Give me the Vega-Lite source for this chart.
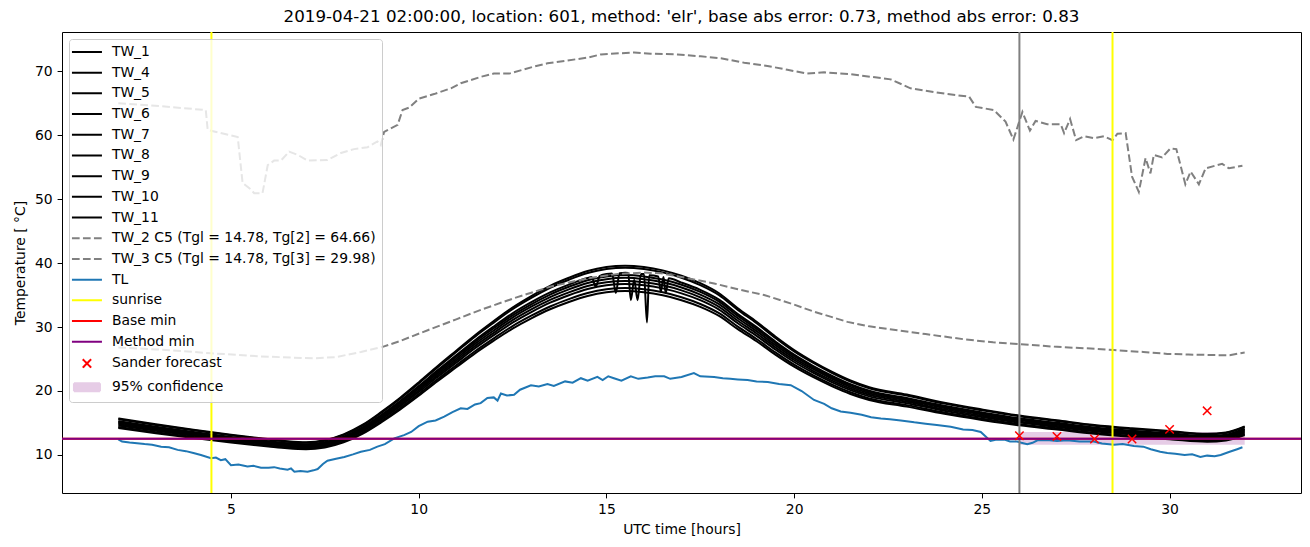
{
"$schema": "https://vega.github.io/schema/vega-lite/v6.json",
"autosize": {"type": "none"},
"width": 1239, "height": 461,
"padding": {"left": 62, "top": 32, "right": 9, "bottom": 54},
"background": "white",
"title": {"text": "2019-04-21 02:00:00, location: 601, method: 'elr', base abs error: 0.73, method abs error: 0.83", "font": "DejaVu Sans", "fontSize": 16.7, "fontWeight": "normal", "color": "#000000", "anchor": "middle", "frame": "group", "offset": 5},
"config": {
  "view": {"stroke": "#000000", "strokeWidth": 1},
  "axis": {"grid": false, "domain": false, "ticks": true, "tickColor": "#000000", "tickSize": 4.9, "tickWidth": 1, "labelFont": "DejaVu Sans", "labelFontSize": 13.9, "labelColor": "#000000", "labelPadding": 4.9, "titleFont": "DejaVu Sans", "titleFontSize": 13.9, "titleFontWeight": "normal", "titleColor": "#000000"},
  "axisX": {"titlePadding": 6},
  "axisY": {"titlePadding": 7}
},
"datasets": {
"tw": [
{"s":"TW_1","h":2,"T":15.70},{"s":"TW_1","h":3,"T":14.80},{"s":"TW_1","h":4,"T":13.95},{"s":"TW_1","h":5,"T":13.16},{"s":"TW_1","h":6,"T":12.48},{"s":"TW_1","h":6.5,"T":12.16},{"s":"TW_1","h":7,"T":12.00},{"s":"TW_1","h":7.5,"T":12.32},{"s":"TW_1","h":8,"T":13.22},{"s":"TW_1","h":8.5,"T":14.69},{"s":"TW_1","h":9,"T":16.70},{"s":"TW_1","h":9.5,"T":18.91},{"s":"TW_1","h":10,"T":21.34},{"s":"TW_1","h":10.5,"T":23.87},{"s":"TW_1","h":11,"T":26.30},{"s":"TW_1","h":11.5,"T":28.72},{"s":"TW_1","h":12,"T":30.94},{"s":"TW_1","h":12.5,"T":33.05},{"s":"TW_1","h":13,"T":34.84},{"s":"TW_1","h":13.5,"T":36.43},{"s":"TW_1","h":14,"T":37.69},{"s":"TW_1","h":14.5,"T":38.75},{"s":"TW_1","h":15,"T":39.38},{"s":"TW_1","h":15.5,"T":39.59},{"s":"TW_1","h":16,"T":39.38},{"s":"TW_1","h":16.5,"T":38.85},{"s":"TW_1","h":17,"T":38.01},{"s":"TW_1","h":17.5,"T":36.85},{"s":"TW_1","h":18,"T":35.27},{"s":"TW_1","h":18.5,"T":32.94},{"s":"TW_1","h":19,"T":30.83},{"s":"TW_1","h":19.5,"T":28.51},{"s":"TW_1","h":20,"T":26.40},{"s":"TW_1","h":20.5,"T":24.61},{"s":"TW_1","h":21,"T":23.03},{"s":"TW_1","h":21.5,"T":21.66},{"s":"TW_1","h":22,"T":20.60},{"s":"TW_1","h":23,"T":19.44},{"s":"TW_1","h":24,"T":18.17},{"s":"TW_1","h":25,"T":17.12},{"s":"TW_1","h":26,"T":16.17},{"s":"TW_1","h":27,"T":15.43},{"s":"TW_1","h":28,"T":14.69},{"s":"TW_1","h":29,"T":14.17},{"s":"TW_1","h":30,"T":13.74},{"s":"TW_1","h":31,"T":13.32},{"s":"TW_1","h":31.5,"T":13.53},{"s":"TW_1","h":32,"T":14.48},
{"s":"TW_4","h":2,"T":15.58},{"s":"TW_4","h":3,"T":14.69},{"s":"TW_4","h":4,"T":13.85},{"s":"TW_4","h":5,"T":13.07},{"s":"TW_4","h":6,"T":12.39},{"s":"TW_4","h":6.5,"T":12.07},{"s":"TW_4","h":7,"T":11.91},{"s":"TW_4","h":7.5,"T":12.23},{"s":"TW_4","h":8,"T":13.12},{"s":"TW_4","h":8.5,"T":14.58},{"s":"TW_4","h":9,"T":16.57},{"s":"TW_4","h":9.5,"T":18.77},{"s":"TW_4","h":10,"T":21.17},{"s":"TW_4","h":10.5,"T":23.68},{"s":"TW_4","h":11,"T":26.09},{"s":"TW_4","h":11.5,"T":28.50},{"s":"TW_4","h":12,"T":30.69},{"s":"TW_4","h":12.5,"T":32.79},{"s":"TW_4","h":13,"T":34.56},{"s":"TW_4","h":13.5,"T":36.13},{"s":"TW_4","h":14,"T":37.39},{"s":"TW_4","h":14.5,"T":38.44},{"s":"TW_4","h":15,"T":39.06},{"s":"TW_4","h":15.5,"T":39.27},{"s":"TW_4","h":16,"T":39.06},{"s":"TW_4","h":16.5,"T":38.54},{"s":"TW_4","h":17,"T":37.70},{"s":"TW_4","h":17.5,"T":36.55},{"s":"TW_4","h":18,"T":34.98},{"s":"TW_4","h":18.5,"T":32.68},{"s":"TW_4","h":19,"T":30.59},{"s":"TW_4","h":19.5,"T":28.29},{"s":"TW_4","h":20,"T":26.19},{"s":"TW_4","h":20.5,"T":24.42},{"s":"TW_4","h":21,"T":22.85},{"s":"TW_4","h":21.5,"T":21.49},{"s":"TW_4","h":22,"T":20.44},{"s":"TW_4","h":23,"T":19.29},{"s":"TW_4","h":24,"T":18.03},{"s":"TW_4","h":25,"T":16.99},{"s":"TW_4","h":26,"T":16.05},{"s":"TW_4","h":27,"T":15.31},{"s":"TW_4","h":28,"T":14.58},{"s":"TW_4","h":29,"T":14.06},{"s":"TW_4","h":30,"T":13.64},{"s":"TW_4","h":31,"T":13.22},{"s":"TW_4","h":31.5,"T":13.43},{"s":"TW_4","h":32,"T":14.37},
{"s":"TW_5","h":2,"T":15.28},{"s":"TW_5","h":3,"T":14.41},{"s":"TW_5","h":4,"T":13.59},{"s":"TW_5","h":5,"T":12.82},{"s":"TW_5","h":6,"T":12.15},{"s":"TW_5","h":6.5,"T":11.85},{"s":"TW_5","h":7,"T":11.69},{"s":"TW_5","h":7.5,"T":12.00},{"s":"TW_5","h":8,"T":12.87},{"s":"TW_5","h":8.5,"T":14.30},{"s":"TW_5","h":9,"T":16.25},{"s":"TW_5","h":9.5,"T":18.40},{"s":"TW_5","h":10,"T":20.76},{"s":"TW_5","h":10.5,"T":23.22},{"s":"TW_5","h":11,"T":25.57},{"s":"TW_5","h":11.5,"T":27.93},{"s":"TW_5","h":12,"T":30.08},{"s":"TW_5","h":12.5,"T":32.13},{"s":"TW_5","h":13,"T":33.87},{"s":"TW_5","h":13.5,"T":35.40},{"s":"TW_5","h":14,"T":36.63},{"s":"TW_5","h":14.5,"T":37.66},{"s":"TW_5","h":14.6,"T":37.80},{"s":"TW_5","h":14.72,"T":36.3},{"s":"TW_5","h":14.82,"T":37.95},{"s":"TW_5","h":15,"T":38.27},{"s":"TW_5","h":15.15,"T":38.38},{"s":"TW_5","h":15.25,"T":35.3},{"s":"TW_5","h":15.35,"T":38.42},{"s":"TW_5","h":15.5,"T":38.48},{"s":"TW_5","h":15.58,"T":38.45},{"s":"TW_5","h":15.65,"T":34.2},{"s":"TW_5","h":15.74,"T":37.4},{"s":"TW_5","h":15.83,"T":34.2},{"s":"TW_5","h":15.92,"T":38.3},{"s":"TW_5","h":16,"T":38.27},{"s":"TW_5","h":16.08,"T":30.7},{"s":"TW_5","h":16.14,"T":38.1},{"s":"TW_5","h":16.38,"T":37.9},{"s":"TW_5","h":16.45,"T":35.5},{"s":"TW_5","h":16.52,"T":37.8},{"s":"TW_5","h":16.58,"T":35.3},{"s":"TW_5","h":16.66,"T":37.6},{"s":"TW_5","h":17,"T":36.94},{"s":"TW_5","h":17.5,"T":35.81},{"s":"TW_5","h":18,"T":34.28},{"s":"TW_5","h":18.5,"T":32.02},{"s":"TW_5","h":19,"T":29.98},{"s":"TW_5","h":19.5,"T":27.72},{"s":"TW_5","h":20,"T":25.67},{"s":"TW_5","h":20.5,"T":23.93},{"s":"TW_5","h":21,"T":22.40},{"s":"TW_5","h":21.5,"T":21.06},{"s":"TW_5","h":22,"T":20.04},{"s":"TW_5","h":23,"T":18.91},{"s":"TW_5","h":24,"T":17.68},{"s":"TW_5","h":25,"T":16.66},{"s":"TW_5","h":26,"T":15.74},{"s":"TW_5","h":27,"T":15.02},{"s":"TW_5","h":28,"T":14.30},{"s":"TW_5","h":29,"T":13.79},{"s":"TW_5","h":30,"T":13.38},{"s":"TW_5","h":31,"T":12.97},{"s":"TW_5","h":31.5,"T":13.18},{"s":"TW_5","h":32,"T":14.10},
{"s":"TW_6","h":2,"T":15.14},{"s":"TW_6","h":3,"T":14.28},{"s":"TW_6","h":4,"T":13.47},{"s":"TW_6","h":5,"T":12.71},{"s":"TW_6","h":6,"T":12.05},{"s":"TW_6","h":6.5,"T":11.75},{"s":"TW_6","h":7,"T":11.59},{"s":"TW_6","h":7.5,"T":11.90},{"s":"TW_6","h":8,"T":12.76},{"s":"TW_6","h":8.5,"T":14.18},{"s":"TW_6","h":9,"T":16.11},{"s":"TW_6","h":9.5,"T":18.24},{"s":"TW_6","h":10,"T":20.57},{"s":"TW_6","h":10.5,"T":23.00},{"s":"TW_6","h":11,"T":25.34},{"s":"TW_6","h":11.5,"T":27.67},{"s":"TW_6","h":12,"T":29.80},{"s":"TW_6","h":12.5,"T":31.83},{"s":"TW_6","h":13,"T":33.55},{"s":"TW_6","h":13.5,"T":35.07},{"s":"TW_6","h":14,"T":36.29},{"s":"TW_6","h":14.5,"T":37.31},{"s":"TW_6","h":15,"T":37.91},{"s":"TW_6","h":15.5,"T":38.12},{"s":"TW_6","h":16,"T":37.91},{"s":"TW_6","h":16.5,"T":37.41},{"s":"TW_6","h":17,"T":36.60},{"s":"TW_6","h":17.5,"T":35.48},{"s":"TW_6","h":18,"T":33.96},{"s":"TW_6","h":18.5,"T":31.73},{"s":"TW_6","h":19,"T":29.70},{"s":"TW_6","h":19.5,"T":27.47},{"s":"TW_6","h":20,"T":25.44},{"s":"TW_6","h":20.5,"T":23.71},{"s":"TW_6","h":21,"T":22.19},{"s":"TW_6","h":21.5,"T":20.87},{"s":"TW_6","h":22,"T":19.86},{"s":"TW_6","h":23,"T":18.74},{"s":"TW_6","h":24,"T":17.53},{"s":"TW_6","h":25,"T":16.51},{"s":"TW_6","h":26,"T":15.60},{"s":"TW_6","h":27,"T":14.89},{"s":"TW_6","h":28,"T":14.18},{"s":"TW_6","h":29,"T":13.67},{"s":"TW_6","h":30,"T":13.27},{"s":"TW_6","h":31,"T":12.86},{"s":"TW_6","h":31.5,"T":13.06},{"s":"TW_6","h":32,"T":13.98},
{"s":"TW_7","h":2,"T":14.98},{"s":"TW_7","h":3,"T":14.13},{"s":"TW_7","h":4,"T":13.33},{"s":"TW_7","h":5,"T":12.57},{"s":"TW_7","h":6,"T":11.92},{"s":"TW_7","h":6.5,"T":11.62},{"s":"TW_7","h":7,"T":11.47},{"s":"TW_7","h":7.5,"T":11.77},{"s":"TW_7","h":8,"T":12.62},{"s":"TW_7","h":8.5,"T":14.03},{"s":"TW_7","h":9,"T":15.93},{"s":"TW_7","h":9.5,"T":18.04},{"s":"TW_7","h":10,"T":20.34},{"s":"TW_7","h":10.5,"T":22.75},{"s":"TW_7","h":11,"T":25.05},{"s":"TW_7","h":11.5,"T":27.36},{"s":"TW_7","h":12,"T":29.46},{"s":"TW_7","h":12.5,"T":31.47},{"s":"TW_7","h":13,"T":33.17},{"s":"TW_7","h":13.5,"T":34.67},{"s":"TW_7","h":14,"T":35.88},{"s":"TW_7","h":14.5,"T":36.88},{"s":"TW_7","h":15,"T":37.48},{"s":"TW_7","h":15.5,"T":37.68},{"s":"TW_7","h":16,"T":37.48},{"s":"TW_7","h":16.5,"T":36.98},{"s":"TW_7","h":17,"T":36.18},{"s":"TW_7","h":17.5,"T":35.07},{"s":"TW_7","h":18,"T":33.57},{"s":"TW_7","h":18.5,"T":31.37},{"s":"TW_7","h":19,"T":29.36},{"s":"TW_7","h":19.5,"T":27.16},{"s":"TW_7","h":20,"T":25.15},{"s":"TW_7","h":20.5,"T":23.45},{"s":"TW_7","h":21,"T":21.95},{"s":"TW_7","h":21.5,"T":20.64},{"s":"TW_7","h":22,"T":19.64},{"s":"TW_7","h":23,"T":18.54},{"s":"TW_7","h":24,"T":17.33},{"s":"TW_7","h":25,"T":16.33},{"s":"TW_7","h":26,"T":15.43},{"s":"TW_7","h":27,"T":14.73},{"s":"TW_7","h":28,"T":14.03},{"s":"TW_7","h":29,"T":13.53},{"s":"TW_7","h":30,"T":13.13},{"s":"TW_7","h":31,"T":12.72},{"s":"TW_7","h":31.5,"T":12.93},{"s":"TW_7","h":32,"T":13.83},
{"s":"TW_8","h":2,"T":14.80},{"s":"TW_8","h":3,"T":13.96},{"s":"TW_8","h":4,"T":13.17},{"s":"TW_8","h":5,"T":12.43},{"s":"TW_8","h":6,"T":11.78},{"s":"TW_8","h":6.5,"T":11.49},{"s":"TW_8","h":7,"T":11.34},{"s":"TW_8","h":7.5,"T":11.64},{"s":"TW_8","h":8,"T":12.48},{"s":"TW_8","h":8.5,"T":13.86},{"s":"TW_8","h":9,"T":15.74},{"s":"TW_8","h":9.5,"T":17.82},{"s":"TW_8","h":10,"T":20.09},{"s":"TW_8","h":10.5,"T":22.47},{"s":"TW_8","h":11,"T":24.74},{"s":"TW_8","h":11.5,"T":27.02},{"s":"TW_8","h":12,"T":29.09},{"s":"TW_8","h":12.5,"T":31.07},{"s":"TW_8","h":13,"T":32.75},{"s":"TW_8","h":13.5,"T":34.23},{"s":"TW_8","h":14,"T":35.42},{"s":"TW_8","h":14.5,"T":36.41},{"s":"TW_8","h":15,"T":37.00},{"s":"TW_8","h":15.5,"T":37.20},{"s":"TW_8","h":16,"T":37.00},{"s":"TW_8","h":16.5,"T":36.51},{"s":"TW_8","h":17,"T":35.72},{"s":"TW_8","h":17.5,"T":34.63},{"s":"TW_8","h":18,"T":33.15},{"s":"TW_8","h":18.5,"T":30.97},{"s":"TW_8","h":19,"T":28.99},{"s":"TW_8","h":19.5,"T":26.82},{"s":"TW_8","h":20,"T":24.84},{"s":"TW_8","h":20.5,"T":23.16},{"s":"TW_8","h":21,"T":21.67},{"s":"TW_8","h":21.5,"T":20.39},{"s":"TW_8","h":22,"T":19.40},{"s":"TW_8","h":23,"T":18.31},{"s":"TW_8","h":24,"T":17.13},{"s":"TW_8","h":25,"T":16.14},{"s":"TW_8","h":26,"T":15.25},{"s":"TW_8","h":27,"T":14.55},{"s":"TW_8","h":28,"T":13.86},{"s":"TW_8","h":29,"T":13.37},{"s":"TW_8","h":30,"T":12.97},{"s":"TW_8","h":31,"T":12.58},{"s":"TW_8","h":31.5,"T":12.77},{"s":"TW_8","h":32,"T":13.66},
{"s":"TW_9","h":2,"T":14.62},{"s":"TW_9","h":3,"T":13.79},{"s":"TW_9","h":4,"T":13.01},{"s":"TW_9","h":5,"T":12.28},{"s":"TW_9","h":6,"T":11.65},{"s":"TW_9","h":6.5,"T":11.35},{"s":"TW_9","h":7,"T":11.21},{"s":"TW_9","h":7.5,"T":11.50},{"s":"TW_9","h":8,"T":12.33},{"s":"TW_9","h":8.5,"T":13.70},{"s":"TW_9","h":9,"T":15.55},{"s":"TW_9","h":9.5,"T":17.60},{"s":"TW_9","h":10,"T":19.84},{"s":"TW_9","h":10.5,"T":22.18},{"s":"TW_9","h":11,"T":24.43},{"s":"TW_9","h":11.5,"T":26.67},{"s":"TW_9","h":12,"T":28.72},{"s":"TW_9","h":12.5,"T":30.67},{"s":"TW_9","h":13,"T":32.33},{"s":"TW_9","h":13.5,"T":33.80},{"s":"TW_9","h":14,"T":34.97},{"s":"TW_9","h":14.5,"T":35.94},{"s":"TW_9","h":15,"T":36.53},{"s":"TW_9","h":15.5,"T":36.72},{"s":"TW_9","h":16,"T":36.53},{"s":"TW_9","h":16.5,"T":36.04},{"s":"TW_9","h":17,"T":35.26},{"s":"TW_9","h":17.5,"T":34.19},{"s":"TW_9","h":18,"T":32.72},{"s":"TW_9","h":18.5,"T":30.58},{"s":"TW_9","h":19,"T":28.62},{"s":"TW_9","h":19.5,"T":26.48},{"s":"TW_9","h":20,"T":24.53},{"s":"TW_9","h":20.5,"T":22.87},{"s":"TW_9","h":21,"T":21.40},{"s":"TW_9","h":21.5,"T":20.14},{"s":"TW_9","h":22,"T":19.16},{"s":"TW_9","h":23,"T":18.09},{"s":"TW_9","h":24,"T":16.92},{"s":"TW_9","h":25,"T":15.94},{"s":"TW_9","h":26,"T":15.06},{"s":"TW_9","h":27,"T":14.38},{"s":"TW_9","h":28,"T":13.70},{"s":"TW_9","h":29,"T":13.21},{"s":"TW_9","h":30,"T":12.82},{"s":"TW_9","h":31,"T":12.43},{"s":"TW_9","h":31.5,"T":12.62},{"s":"TW_9","h":32,"T":13.50},
{"s":"TW_10","h":2,"T":14.38},{"s":"TW_10","h":3,"T":13.57},{"s":"TW_10","h":4,"T":12.80},{"s":"TW_10","h":5,"T":12.08},{"s":"TW_10","h":6,"T":11.46},{"s":"TW_10","h":6.5,"T":11.17},{"s":"TW_10","h":7,"T":11.03},{"s":"TW_10","h":7.5,"T":11.32},{"s":"TW_10","h":8,"T":12.13},{"s":"TW_10","h":8.5,"T":13.47},{"s":"TW_10","h":9,"T":15.29},{"s":"TW_10","h":9.5,"T":17.31},{"s":"TW_10","h":10,"T":19.51},{"s":"TW_10","h":10.5,"T":21.81},{"s":"TW_10","h":11,"T":24.01},{"s":"TW_10","h":11.5,"T":26.22},{"s":"TW_10","h":12,"T":28.23},{"s":"TW_10","h":12.5,"T":30.15},{"s":"TW_10","h":13,"T":31.77},{"s":"TW_10","h":13.5,"T":33.21},{"s":"TW_10","h":14,"T":34.36},{"s":"TW_10","h":14.5,"T":35.32},{"s":"TW_10","h":15,"T":35.90},{"s":"TW_10","h":15.5,"T":36.09},{"s":"TW_10","h":16,"T":35.90},{"s":"TW_10","h":16.5,"T":35.42},{"s":"TW_10","h":17,"T":34.65},{"s":"TW_10","h":17.5,"T":33.60},{"s":"TW_10","h":18,"T":32.16},{"s":"TW_10","h":18.5,"T":30.05},{"s":"TW_10","h":19,"T":28.13},{"s":"TW_10","h":19.5,"T":26.03},{"s":"TW_10","h":20,"T":24.11},{"s":"TW_10","h":20.5,"T":22.48},{"s":"TW_10","h":21,"T":21.04},{"s":"TW_10","h":21.5,"T":19.80},{"s":"TW_10","h":22,"T":18.84},{"s":"TW_10","h":23,"T":17.79},{"s":"TW_10","h":24,"T":16.64},{"s":"TW_10","h":25,"T":15.68},{"s":"TW_10","h":26,"T":14.81},{"s":"TW_10","h":27,"T":14.14},{"s":"TW_10","h":28,"T":13.47},{"s":"TW_10","h":29,"T":12.99},{"s":"TW_10","h":30,"T":12.61},{"s":"TW_10","h":31,"T":12.23},{"s":"TW_10","h":31.5,"T":12.42},{"s":"TW_10","h":32,"T":13.28},
{"s":"TW_11","h":2,"T":14.21},{"s":"TW_11","h":3,"T":13.40},{"s":"TW_11","h":4,"T":12.65},{"s":"TW_11","h":5,"T":11.94},{"s":"TW_11","h":6,"T":11.32},{"s":"TW_11","h":6.5,"T":11.04},{"s":"TW_11","h":7,"T":10.90},{"s":"TW_11","h":7.5,"T":11.18},{"s":"TW_11","h":8,"T":11.98},{"s":"TW_11","h":8.5,"T":13.31},{"s":"TW_11","h":9,"T":15.10},{"s":"TW_11","h":9.5,"T":17.09},{"s":"TW_11","h":10,"T":19.26},{"s":"TW_11","h":10.5,"T":21.53},{"s":"TW_11","h":11,"T":23.70},{"s":"TW_11","h":11.5,"T":25.88},{"s":"TW_11","h":12,"T":27.86},{"s":"TW_11","h":12.5,"T":29.75},{"s":"TW_11","h":13,"T":31.36},{"s":"TW_11","h":13.5,"T":32.77},{"s":"TW_11","h":14,"T":33.91},{"s":"TW_11","h":14.5,"T":34.85},{"s":"TW_11","h":15,"T":35.42},{"s":"TW_11","h":15.5,"T":35.61},{"s":"TW_11","h":16,"T":35.42},{"s":"TW_11","h":16.5,"T":34.95},{"s":"TW_11","h":17,"T":34.19},{"s":"TW_11","h":17.5,"T":33.15},{"s":"TW_11","h":18,"T":31.73},{"s":"TW_11","h":18.5,"T":29.66},{"s":"TW_11","h":19,"T":27.77},{"s":"TW_11","h":19.5,"T":25.69},{"s":"TW_11","h":20,"T":23.80},{"s":"TW_11","h":20.5,"T":22.19},{"s":"TW_11","h":21,"T":20.77},{"s":"TW_11","h":21.5,"T":19.54},{"s":"TW_11","h":22,"T":18.60},{"s":"TW_11","h":23,"T":17.56},{"s":"TW_11","h":24,"T":16.43},{"s":"TW_11","h":25,"T":15.48},{"s":"TW_11","h":26,"T":14.63},{"s":"TW_11","h":27,"T":13.97},{"s":"TW_11","h":28,"T":13.31},{"s":"TW_11","h":29,"T":12.83},{"s":"TW_11","h":30,"T":12.46},{"s":"TW_11","h":31,"T":12.08},{"s":"TW_11","h":31.5,"T":12.27},{"s":"TW_11","h":32,"T":13.12}
],
"dash": [
{"s":"TW_2","h":2.0,"T":64.95},{"s":"TW_2","h":3.14,"T":64.5},{"s":"TW_2","h":4.33,"T":63.9},{"s":"TW_2","h":4.38,"T":60.8},{"s":"TW_2","h":5.18,"T":59.7},{"s":"TW_2","h":5.31,"T":52.5},{"s":"TW_2","h":5.49,"T":51.7},{"s":"TW_2","h":5.62,"T":50.9},{"s":"TW_2","h":5.84,"T":50.9},{"s":"TW_2","h":5.98,"T":55.3},{"s":"TW_2","h":6.15,"T":56.0},{"s":"TW_2","h":6.33,"T":56.0},{"s":"TW_2","h":6.55,"T":57.4},{"s":"TW_2","h":6.78,"T":56.9},{"s":"TW_2","h":7.04,"T":56.0},{"s":"TW_2","h":7.57,"T":56.1},{"s":"TW_2","h":7.93,"T":57.2},{"s":"TW_2","h":8.28,"T":57.8},{"s":"TW_2","h":8.64,"T":58.1},{"s":"TW_2","h":8.9,"T":59.0},{"s":"TW_2","h":8.99,"T":58.4},{"s":"TW_2","h":9.08,"T":60.5},{"s":"TW_2","h":9.44,"T":61.6},{"s":"TW_2","h":9.57,"T":63.9},{"s":"TW_2","h":9.75,"T":64.3},{"s":"TW_2","h":10.01,"T":65.7},{"s":"TW_2","h":10.41,"T":66.4},{"s":"TW_2","h":10.86,"T":67.3},{"s":"TW_2","h":11.12,"T":68.1},{"s":"TW_2","h":11.66,"T":69.1},{"s":"TW_2","h":12.0,"T":69.6},{"s":"TW_2","h":12.41,"T":69.6},{"s":"TW_2","h":13.07,"T":70.7},{"s":"TW_2","h":13.43,"T":71.2},{"s":"TW_2","h":14.5,"T":72.1},{"s":"TW_2","h":14.85,"T":72.6},{"s":"TW_2","h":15.74,"T":72.9},{"s":"TW_2","h":16.18,"T":72.7},{"s":"TW_2","h":16.89,"T":72.6},{"s":"TW_2","h":17.51,"T":72.3},{"s":"TW_2","h":18.05,"T":72.0},{"s":"TW_2","h":18.67,"T":71.3},{"s":"TW_2","h":19.29,"T":70.8},{"s":"TW_2","h":19.82,"T":70.2},{"s":"TW_2","h":20.35,"T":69.6},{"s":"TW_2","h":20.8,"T":69.8},{"s":"TW_2","h":21.51,"T":69.5},{"s":"TW_2","h":22.57,"T":68.7},{"s":"TW_2","h":23.1,"T":67.3},{"s":"TW_2","h":24.08,"T":66.4},{"s":"TW_2","h":24.66,"T":66.0},{"s":"TW_2","h":24.84,"T":64.4},{"s":"TW_2","h":25.32,"T":63.9},{"s":"TW_2","h":25.63,"T":62.1},{"s":"TW_2","h":25.84,"T":59.3},{"s":"TW_2","h":26.08,"T":63.6},{"s":"TW_2","h":26.28,"T":60.7},{"s":"TW_2","h":26.43,"T":62.2},{"s":"TW_2","h":26.74,"T":61.7},{"s":"TW_2","h":27.1,"T":61.7},{"s":"TW_2","h":27.19,"T":60.3},{"s":"TW_2","h":27.35,"T":62.5},{"s":"TW_2","h":27.51,"T":59.2},{"s":"TW_2","h":27.72,"T":59.8},{"s":"TW_2","h":27.99,"T":59.5},{"s":"TW_2","h":28.25,"T":59.8},{"s":"TW_2","h":28.48,"T":59.2},{"s":"TW_2","h":28.61,"T":60.2},{"s":"TW_2","h":28.83,"T":60.3},{"s":"TW_2","h":29.0,"T":53.5},{"s":"TW_2","h":29.18,"T":51.1},{"s":"TW_2","h":29.36,"T":56.4},{"s":"TW_2","h":29.49,"T":54.0},{"s":"TW_2","h":29.58,"T":56.9},{"s":"TW_2","h":29.8,"T":56.5},{"s":"TW_2","h":30.02,"T":57.9},{"s":"TW_2","h":30.18,"T":57.8},{"s":"TW_2","h":30.42,"T":52.3},{"s":"TW_2","h":30.56,"T":54.3},{"s":"TW_2","h":30.78,"T":52.3},{"s":"TW_2","h":30.96,"T":54.8},{"s":"TW_2","h":31.4,"T":55.5},{"s":"TW_2","h":31.58,"T":54.8},{"s":"TW_2","h":31.94,"T":55.2},
{"s":"TW_3","h":2.0,"T":26.8},{"s":"TW_3","h":3.0,"T":26.5},{"s":"TW_3","h":4.0,"T":26.1},{"s":"TW_3","h":4.47,"T":25.9},{"s":"TW_3","h":5.8,"T":25.4},{"s":"TW_3","h":7.2,"T":25.1},{"s":"TW_3","h":7.8,"T":25.3},{"s":"TW_3","h":8.46,"T":26.1},{"s":"TW_3","h":9.04,"T":26.9},{"s":"TW_3","h":9.5,"T":27.8},{"s":"TW_3","h":10.24,"T":29.5},{"s":"TW_3","h":11.0,"T":31.2},{"s":"TW_3","h":11.66,"T":32.7},{"s":"TW_3","h":12.54,"T":34.5},{"s":"TW_3","h":13.5,"T":36.3},{"s":"TW_3","h":14.5,"T":37.6},{"s":"TW_3","h":15.3,"T":38.3},{"s":"TW_3","h":16.0,"T":38.5},{"s":"TW_3","h":16.45,"T":38.4},{"s":"TW_3","h":17.1,"T":37.7},{"s":"TW_3","h":17.87,"T":36.8},{"s":"TW_3","h":18.5,"T":35.9},{"s":"TW_3","h":19.2,"T":35.0},{"s":"TW_3","h":19.9,"T":33.7},{"s":"TW_3","h":20.53,"T":32.4},{"s":"TW_3","h":21.42,"T":30.8},{"s":"TW_3","h":22.0,"T":30.1},{"s":"TW_3","h":22.75,"T":29.5},{"s":"TW_3","h":23.5,"T":28.9},{"s":"TW_3","h":24.5,"T":28.1},{"s":"TW_3","h":25.3,"T":27.6},{"s":"TW_3","h":26.03,"T":27.3},{"s":"TW_3","h":27.0,"T":26.9},{"s":"TW_3","h":28.0,"T":26.6},{"s":"TW_3","h":28.52,"T":26.4},{"s":"TW_3","h":29.3,"T":26.1},{"s":"TW_3","h":29.94,"T":25.8},{"s":"TW_3","h":30.5,"T":25.7},{"s":"TW_3","h":31.27,"T":25.6},{"s":"TW_3","h":31.6,"T":25.6},{"s":"TW_3","h":31.89,"T":25.9},{"s":"TW_3","h":32.0,"T":26.0}
],
"tl": [
{"s":"TL","h":2.0,"T":12.45},{"s":"TL","h":2.1,"T":12.1},{"s":"TL","h":2.3,"T":11.95},{"s":"TL","h":2.5,"T":11.85},{"s":"TL","h":2.7,"T":11.7},{"s":"TL","h":2.9,"T":11.6},{"s":"TL","h":3.14,"T":11.3},{"s":"TL","h":3.35,"T":11.2},{"s":"TL","h":3.58,"T":10.8},{"s":"TL","h":3.8,"T":10.6},{"s":"TL","h":4.0,"T":10.3},{"s":"TL","h":4.2,"T":10.0},{"s":"TL","h":4.47,"T":9.5},{"s":"TL","h":4.6,"T":9.6},{"s":"TL","h":4.73,"T":9.2},{"s":"TL","h":4.85,"T":9.35},{"s":"TL","h":5.0,"T":8.4},{"s":"TL","h":5.2,"T":8.5},{"s":"TL","h":5.44,"T":8.2},{"s":"TL","h":5.6,"T":8.3},{"s":"TL","h":5.8,"T":8.0},{"s":"TL","h":6.0,"T":8.0},{"s":"TL","h":6.15,"T":8.1},{"s":"TL","h":6.3,"T":7.9},{"s":"TL","h":6.51,"T":7.7},{"s":"TL","h":6.6,"T":7.9},{"s":"TL","h":6.69,"T":7.4},{"s":"TL","h":6.85,"T":7.5},{"s":"TL","h":7.04,"T":7.4},{"s":"TL","h":7.2,"T":7.6},{"s":"TL","h":7.31,"T":7.8},{"s":"TL","h":7.45,"T":8.6},{"s":"TL","h":7.57,"T":9.1},{"s":"TL","h":7.8,"T":9.4},{"s":"TL","h":8.02,"T":9.7},{"s":"TL","h":8.25,"T":10.1},{"s":"TL","h":8.46,"T":10.5},{"s":"TL","h":8.7,"T":10.8},{"s":"TL","h":8.9,"T":11.3},{"s":"TL","h":9.1,"T":11.7},{"s":"TL","h":9.35,"T":12.6},{"s":"TL","h":9.61,"T":13.1},{"s":"TL","h":9.8,"T":13.6},{"s":"TL","h":10.0,"T":14.5},{"s":"TL","h":10.24,"T":15.2},{"s":"TL","h":10.45,"T":15.4},{"s":"TL","h":10.68,"T":16.0},{"s":"TL","h":10.9,"T":16.7},{"s":"TL","h":11.12,"T":17.3},{"s":"TL","h":11.3,"T":17.2},{"s":"TL","h":11.5,"T":17.9},{"s":"TL","h":11.65,"T":18.1},{"s":"TL","h":11.83,"T":18.9},{"s":"TL","h":12.0,"T":19.0},{"s":"TL","h":12.1,"T":18.5},{"s":"TL","h":12.19,"T":19.6},{"s":"TL","h":12.35,"T":19.3},{"s":"TL","h":12.54,"T":19.4},{"s":"TL","h":12.7,"T":20.2},{"s":"TL","h":12.99,"T":20.9},{"s":"TL","h":13.2,"T":20.7},{"s":"TL","h":13.43,"T":21.1},{"s":"TL","h":13.6,"T":20.8},{"s":"TL","h":13.9,"T":21.5},{"s":"TL","h":14.1,"T":21.3},{"s":"TL","h":14.32,"T":22.0},{"s":"TL","h":14.5,"T":21.6},{"s":"TL","h":14.76,"T":22.2},{"s":"TL","h":14.9,"T":21.7},{"s":"TL","h":15.05,"T":22.3},{"s":"TL","h":15.2,"T":22.0},{"s":"TL","h":15.4,"T":21.6},{"s":"TL","h":15.65,"T":22.3},{"s":"TL","h":15.85,"T":21.9},{"s":"TL","h":16.1,"T":22.1},{"s":"TL","h":16.3,"T":22.3},{"s":"TL","h":16.54,"T":22.3},{"s":"TL","h":16.7,"T":21.9},{"s":"TL","h":17.0,"T":22.2},{"s":"TL","h":17.33,"T":22.8},{"s":"TL","h":17.5,"T":22.3},{"s":"TL","h":17.87,"T":22.2},{"s":"TL","h":18.1,"T":22.0},{"s":"TL","h":18.3,"T":21.9},{"s":"TL","h":18.5,"T":21.8},{"s":"TL","h":18.76,"T":21.7},{"s":"TL","h":19.0,"T":21.5},{"s":"TL","h":19.3,"T":21.4},{"s":"TL","h":19.6,"T":21.1},{"s":"TL","h":19.91,"T":20.9},{"s":"TL","h":20.2,"T":20.0},{"s":"TL","h":20.53,"T":18.6},{"s":"TL","h":20.8,"T":18.0},{"s":"TL","h":21.0,"T":17.3},{"s":"TL","h":21.24,"T":16.8},{"s":"TL","h":21.5,"T":16.6},{"s":"TL","h":21.8,"T":16.3},{"s":"TL","h":22.05,"T":15.9},{"s":"TL","h":22.31,"T":15.7},{"s":"TL","h":22.55,"T":15.6},{"s":"TL","h":22.84,"T":15.4},{"s":"TL","h":23.2,"T":15.1},{"s":"TL","h":23.5,"T":14.9},{"s":"TL","h":23.8,"T":14.7},{"s":"TL","h":24.17,"T":14.4},{"s":"TL","h":24.5,"T":14.0},{"s":"TL","h":24.75,"T":13.9},{"s":"TL","h":24.97,"T":13.6},{"s":"TL","h":25.23,"T":12.2},{"s":"TL","h":25.4,"T":12.4},{"s":"TL","h":25.6,"T":12.4},{"s":"TL","h":25.75,"T":12.1},{"s":"TL","h":25.94,"T":12.1},{"s":"TL","h":26.05,"T":11.9},{"s":"TL","h":26.21,"T":11.7},{"s":"TL","h":26.35,"T":11.9},{"s":"TL","h":26.48,"T":12.3},{"s":"TL","h":26.8,"T":12.3},{"s":"TL","h":27.0,"T":12.2},{"s":"TL","h":27.27,"T":12.3},{"s":"TL","h":27.6,"T":12.1},{"s":"TL","h":27.98,"T":12.1},{"s":"TL","h":28.2,"T":11.8},{"s":"TL","h":28.52,"T":11.6},{"s":"TL","h":28.75,"T":11.7},{"s":"TL","h":29.05,"T":11.4},{"s":"TL","h":29.3,"T":11.3},{"s":"TL","h":29.5,"T":10.9},{"s":"TL","h":29.75,"T":10.5},{"s":"TL","h":29.94,"T":10.3},{"s":"TL","h":30.15,"T":10.2},{"s":"TL","h":30.4,"T":10.0},{"s":"TL","h":30.6,"T":10.1},{"s":"TL","h":30.82,"T":9.7},{"s":"TL","h":31.0,"T":9.9},{"s":"TL","h":31.2,"T":9.8},{"s":"TL","h":31.36,"T":10.0},{"s":"TL","h":31.6,"T":10.5},{"s":"TL","h":31.8,"T":10.9},{"s":"TL","h":31.94,"T":11.2}
],
"band": [{"h":26,"lo":11.6,"hi":13.6},{"h":32,"lo":11.6,"hi":13.6}],
"sunrise": [{"s":"sunrise","h":4.48},{"s":"sunrise","h":28.48}],
"vline": [{"h":26}],
"hmin": [{"s":"Base min","T":12.55},{"s":"Method min","T":12.55}],
"sander": [{"s":"Sander forecast","h":26,"T":13.0},{"s":"Sander forecast","h":27,"T":12.9},{"s":"Sander forecast","h":28,"T":12.5},{"s":"Sander forecast","h":29,"T":12.5},{"s":"Sander forecast","h":30,"T":14.0},{"s":"Sander forecast","h":31,"T":16.9}]
},
"layer": [
{
  "data": {"name": "band"},
  "mark": {"type": "area", "color": "#800080", "opacity": 0.2},
  "encoding": {
    "x": {"field": "h", "type": "quantitative", "scale": {"domain": [0.5, 33.5], "nice": false, "zero": false}, "axis": {"values": [5,10,15,20,25,30]}, "title": "UTC time [hours]"},
    "y": {"field": "lo", "type": "quantitative", "scale": {"domain": [4.06, 76.1], "nice": false, "zero": false}, "axis": {"values": [10,20,30,40,50,60,70]}, "title": "Temperature [ °C]"},
    "y2": {"field": "hi"}
  }
},
{
  "data": {"name": "tw"},
  "mark": {"type": "line", "strokeWidth": 2, "interpolate": "monotone"},
  "encoding": {
    "x": {"field": "h", "type": "quantitative", "scale": {"domain": [0.5, 33.5], "nice": false, "zero": false}, "axis": {"values": [5,10,15,20,25,30]}, "title": "UTC time [hours]"},
    "y": {"field": "T", "type": "quantitative", "scale": {"domain": [4.06, 76.1], "nice": false, "zero": false}, "axis": {"values": [10,20,30,40,50,60,70]}, "title": "Temperature [ °C]"},
    "stroke": {"field": "s", "type": "nominal",
      "scale": {"domain": ["TW_1","TW_4","TW_5","TW_6","TW_7","TW_8","TW_9","TW_10","TW_11","TW_2","TW_3","TL","sunrise","Base min","Method min","Sander forecast","95% confidence"],
                "range": ["#000000","#000000","#000000","#000000","#000000","#000000","#000000","#000000","#000000","#808080","#808080","#1f77b4","#ffff00","#ff0000","#800080","#ff0000","#e6cce6"]},
      "legend": {
        "title": null, "orient": "top-left", "offset": 7, "padding": 6,
        "fillColor": "rgba(255,255,255,0.8)", "strokeColor": "#cccccc", "cornerRadius": 3,
        "labelFont": "DejaVu Sans", "labelFontSize": 13.9, "labelColor": "#000000", "labelLimit": 400,
        "symbolSize": 16, "symbolStrokeWidth": 2, "symbolOffset": 5, "labelOffset": 18, "rowPadding": 5.7,
        "zindex": 1,
        "labelExpr": "datum.value == 'TW_2' ? 'TW_2 C5 (Tgl = 14.78, Tg[2] = 64.66)' : datum.value == 'TW_3' ? 'TW_3 C5 (Tgl = 14.78, Tg[3] = 29.98)' : datum.value"
      }
    }
  }
},
{
  "data": {"name": "dash"},
  "mark": {"type": "line", "strokeWidth": 2},
  "encoding": {
    "x": {"field": "h", "type": "quantitative", "scale": {"domain": [0.5, 33.5], "nice": false, "zero": false}, "axis": {"values": [5,10,15,20,25,30]}, "title": "UTC time [hours]"},
    "y": {"field": "T", "type": "quantitative", "scale": {"domain": [4.06, 76.1], "nice": false, "zero": false}, "axis": {"values": [10,20,30,40,50,60,70]}, "title": "Temperature [ °C]"},
    "stroke": {"field": "s", "type": "nominal",
      "scale": {"domain": ["TW_1","TW_4","TW_5","TW_6","TW_7","TW_8","TW_9","TW_10","TW_11","TW_2","TW_3","TL","sunrise","Base min","Method min","Sander forecast","95% confidence"],
                "range": ["#000000","#000000","#000000","#000000","#000000","#000000","#000000","#000000","#000000","#808080","#808080","#1f77b4","#ffff00","#ff0000","#800080","#ff0000","#e6cce6"]}},
    "strokeDash": {"field": "s", "type": "nominal",
      "scale": {"domain": ["TW_1","TW_4","TW_5","TW_6","TW_7","TW_8","TW_9","TW_10","TW_11","TW_2","TW_3","TL","sunrise","Base min","Method min","Sander forecast","95% confidence"],
                "range": [[1,0],[1,0],[1,0],[1,0],[1,0],[1,0],[1,0],[1,0],[1,0],[7.7,3.3],[7.7,3.3],[1,0],[1,0],[1,0],[1,0],[1,0],[1,0]]}}
  }
},
{
  "data": {"name": "tl"},
  "mark": {"type": "line", "strokeWidth": 2},
  "encoding": {
    "x": {"field": "h", "type": "quantitative", "scale": {"domain": [0.5, 33.5], "nice": false, "zero": false}, "axis": {"values": [5,10,15,20,25,30]}, "title": "UTC time [hours]"},
    "y": {"field": "T", "type": "quantitative", "scale": {"domain": [4.06, 76.1], "nice": false, "zero": false}, "axis": {"values": [10,20,30,40,50,60,70]}, "title": "Temperature [ °C]"},
    "stroke": {"field": "s", "type": "nominal",
      "scale": {"domain": ["TW_1","TW_4","TW_5","TW_6","TW_7","TW_8","TW_9","TW_10","TW_11","TW_2","TW_3","TL","sunrise","Base min","Method min","Sander forecast","95% confidence"],
                "range": ["#000000","#000000","#000000","#000000","#000000","#000000","#000000","#000000","#000000","#808080","#808080","#1f77b4","#ffff00","#ff0000","#800080","#ff0000","#e6cce6"]}}
  }
},
{
  "data": {"name": "sunrise"},
  "mark": {"type": "rule", "strokeWidth": 2},
  "encoding": {
    "x": {"field": "h", "type": "quantitative", "scale": {"domain": [0.5, 33.5], "nice": false, "zero": false}, "axis": {"values": [5,10,15,20,25,30]}, "title": "UTC time [hours]"},
    "stroke": {"field": "s", "type": "nominal",
      "scale": {"domain": ["TW_1","TW_4","TW_5","TW_6","TW_7","TW_8","TW_9","TW_10","TW_11","TW_2","TW_3","TL","sunrise","Base min","Method min","Sander forecast","95% confidence"],
                "range": ["#000000","#000000","#000000","#000000","#000000","#000000","#000000","#000000","#000000","#808080","#808080","#1f77b4","#ffff00","#ff0000","#800080","#ff0000","#e6cce6"]}}
  }
},
{
  "data": {"name": "vline"},
  "mark": {"type": "rule", "strokeWidth": 2, "color": "#808080"},
  "encoding": {
    "x": {"field": "h", "type": "quantitative", "scale": {"domain": [0.5, 33.5], "nice": false, "zero": false}, "axis": {"values": [5,10,15,20,25,30]}, "title": "UTC time [hours]"}
  }
},
{
  "data": {"name": "hmin"},
  "mark": {"type": "rule", "strokeWidth": 2},
  "encoding": {
    "y": {"field": "T", "type": "quantitative", "scale": {"domain": [4.06, 76.1], "nice": false, "zero": false}, "axis": {"values": [10,20,30,40,50,60,70]}, "title": "Temperature [ °C]"},
    "stroke": {"field": "s", "type": "nominal",
      "scale": {"domain": ["TW_1","TW_4","TW_5","TW_6","TW_7","TW_8","TW_9","TW_10","TW_11","TW_2","TW_3","TL","sunrise","Base min","Method min","Sander forecast","95% confidence"],
                "range": ["#000000","#000000","#000000","#000000","#000000","#000000","#000000","#000000","#000000","#808080","#808080","#1f77b4","#ffff00","#ff0000","#800080","#ff0000","#e6cce6"]}}
  }
},
{
  "data": {"name": "sander"},
  "mark": {"type": "point", "size": 16, "strokeWidth": 1.5, "filled": false, "opacity": 1},
  "encoding": {
    "x": {"field": "h", "type": "quantitative", "scale": {"domain": [0.5, 33.5], "nice": false, "zero": false}, "axis": {"values": [5,10,15,20,25,30]}, "title": "UTC time [hours]"},
    "y": {"field": "T", "type": "quantitative", "scale": {"domain": [4.06, 76.1], "nice": false, "zero": false}, "axis": {"values": [10,20,30,40,50,60,70]}, "title": "Temperature [ °C]"},
    "stroke": {"field": "s", "type": "nominal",
      "scale": {"domain": ["TW_1","TW_4","TW_5","TW_6","TW_7","TW_8","TW_9","TW_10","TW_11","TW_2","TW_3","TL","sunrise","Base min","Method min","Sander forecast","95% confidence"],
                "range": ["#000000","#000000","#000000","#000000","#000000","#000000","#000000","#000000","#000000","#808080","#808080","#1f77b4","#ffff00","#ff0000","#800080","#ff0000","#e6cce6"]}},
    "shape": {"field": "s", "type": "nominal",
      "scale": {"domain": ["TW_1","TW_4","TW_5","TW_6","TW_7","TW_8","TW_9","TW_10","TW_11","TW_2","TW_3","TL","sunrise","Base min","Method min","Sander forecast","95% confidence"],
                "range": ["M-7.5,0H7.5","M-7.5,0H7.5","M-7.5,0H7.5","M-7.5,0H7.5","M-7.5,0H7.5","M-7.5,0H7.5","M-7.5,0H7.5","M-7.5,0H7.5","M-7.5,0H7.5","M-7.5,0H7.5","M-7.5,0H7.5","M-7.5,0H7.5","M-7.5,0H7.5","M-7.5,0H7.5","M-7.5,0H7.5","M-2.1,-2.1L2.1,2.1M-2.1,2.1L2.1,-2.1","M-6.5,-2H6.5V2H-6.5Z"]}},
    "fill": {"field": "s", "type": "nominal",
      "scale": {"domain": ["TW_1","TW_4","TW_5","TW_6","TW_7","TW_8","TW_9","TW_10","TW_11","TW_2","TW_3","TL","sunrise","Base min","Method min","Sander forecast","95% confidence"],
                "range": ["transparent","transparent","transparent","transparent","transparent","transparent","transparent","transparent","transparent","transparent","transparent","transparent","transparent","transparent","transparent","transparent","#e6cce6"]}}
  }
}
]
}
